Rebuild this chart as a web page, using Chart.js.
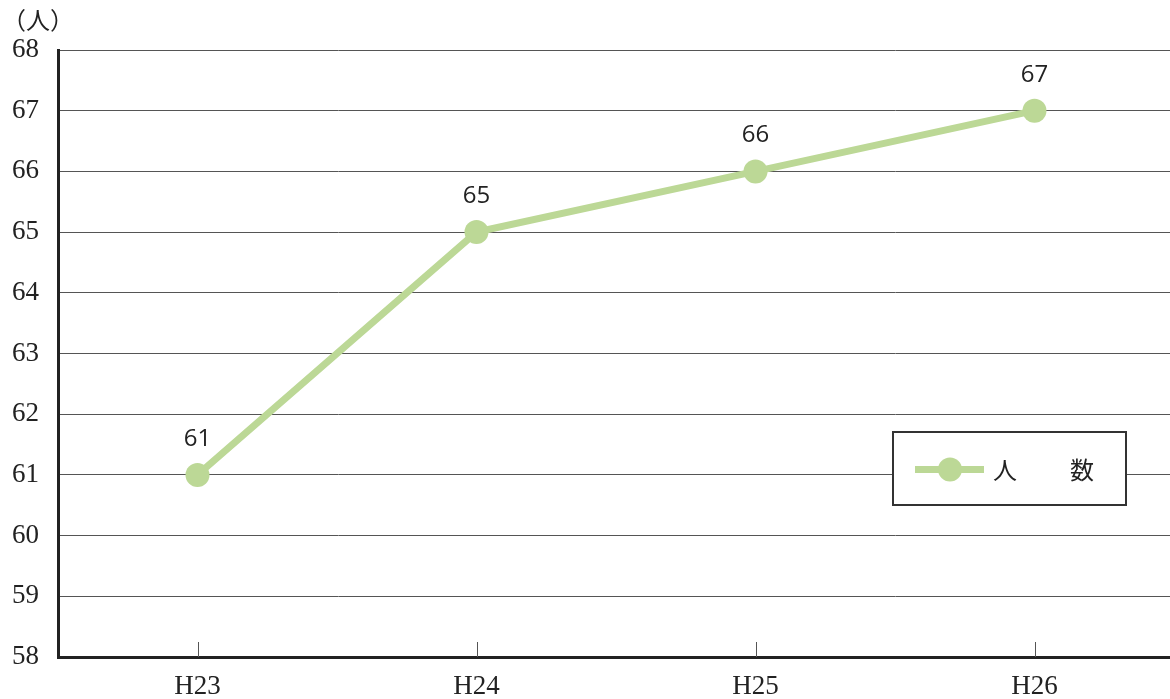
<!DOCTYPE html>
<html lang="ja">
<head>
<meta charset="UTF-8">
<title>人数の推移</title>
<style>
  html, body { margin: 0; padding: 0; background: #fff; overflow: hidden; }
  #wrap { width: 1176px; height: 699px; }
</style>
<script src="https://cdn.jsdelivr.net/npm/chart.js"></script>
</head>
<body>
<div id="wrap"><canvas id="chart" width="1176" height="699"></canvas></div>
<script>
const years = ['H23', 'H24', 'H25', 'H26'];
const people = [61, 65, 66, 67];
const yMin = 58;
const yMax = 68;
const lineColor = '#bcd896';

// small marks pointing up from the bottom axis, value labels, unit and legend box
const extras = {
  id: 'extras',
  afterDatasetsDraw(chart) {
    const ctx = chart.ctx;
    const x = chart.scales.x;
    const area = chart.chartArea;
    ctx.save();
    ctx.strokeStyle = '#555';
    ctx.lineWidth = 1;
    years.forEach((_, i) => {
      const px = Math.round(x.getPixelForTick(i)) + 0.5;
      ctx.beginPath();
      ctx.moveTo(px, area.bottom);
      ctx.lineTo(px, area.bottom - 15);
      ctx.stroke();
    });

    const meta = chart.getDatasetMeta(0);
    ctx.fillStyle = '#222';
    ctx.font = '24px "Open Sans", "Noto Sans", sans-serif';
    ctx.textAlign = 'center';
    ctx.textBaseline = 'middle';
    meta.data.forEach((pt, i) => {
      ctx.fillText(String(people[i]), pt.x, pt.y - 36);
    });

    ctx.font = '24px "Noto Sans CJK JP", serif';
    ctx.textAlign = 'left';
    ctx.fillText('（人）', 2, 20);

    // legend box
    const bx = 893, by = 432, bw = 233, bh = 73;
    ctx.fillStyle = '#fff';
    ctx.fillRect(bx, by, bw, bh);
    ctx.strokeStyle = '#333';
    ctx.lineWidth = 2;
    ctx.strokeRect(bx, by, bw, bh);
    const cy = by + bh / 2 + 1;
    ctx.strokeStyle = lineColor;
    ctx.lineWidth = 7;
    ctx.beginPath();
    ctx.moveTo(915, cy);
    ctx.lineTo(984, cy);
    ctx.stroke();
    ctx.fillStyle = lineColor;
    ctx.beginPath();
    ctx.arc(950, cy, 12, 0, Math.PI * 2);
    ctx.fill();
    ctx.fillStyle = '#222';
    ctx.font = '24px "Noto Sans CJK JP", sans-serif';
    ctx.textBaseline = 'middle';
    ctx.fillText('人', 993, cy);
    ctx.fillText('数', 1070, cy);
    ctx.restore();
  }
};

new Chart(document.getElementById('chart'), {
  type: 'line',
  data: {
    labels: years,
    datasets: [{
      label: '人数',
      data: people,
      borderColor: lineColor,
      backgroundColor: lineColor,
      borderWidth: 7,
      pointRadius: 12,
      pointHoverRadius: 12,
      pointBackgroundColor: lineColor,
      pointBorderWidth: 0,
      tension: 0
    }]
  },
  options: {
    responsive: false,
    animation: false,
    events: [],
    layout: { autoPadding: false, padding: { top: 50, right: 2, left: 0, bottom: 0 } },
    plugins: {
      legend: { display: false },
      tooltip: { enabled: false }
    },
    scales: {
      x: {
        offset: true,
        grid: { display: false },
        border: { display: true, color: '#222', width: 3 },
        ticks: {
          color: '#222',
          padding: 6,
          font: { family: '"Liberation Serif", "DejaVu Serif", serif', size: 27 }
        },
        afterFit(scale) { scale.height = 42; }
      },
      y: {
        min: yMin,
        max: yMax,
        grid: { color: '#555', lineWidth: 1, drawTicks: false },
        border: { display: true, color: '#222', width: 3 },
        ticks: {
          stepSize: 1,
          color: '#222',
          padding: 19,
          font: { family: '"Liberation Serif", "DejaVu Serif", serif', size: 27 }
        },
        afterFit(scale) { scale.width = 58; }
      }
    }
  },
  plugins: [extras]
});
</script>
</body>
</html>
